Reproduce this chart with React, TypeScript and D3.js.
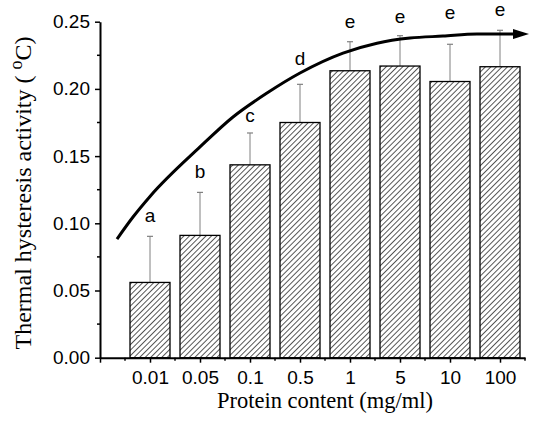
import React, { useEffect, useRef } from "react";
import * as d3 from "d3";

// protein content categories (mg/ml)
const categories = ["0.01", "0.05", "0.1", "0.5", "1", "5", "10", "100"];
// mean thermal hysteresis activity (oC)
const means = [0.056, 0.091, 0.1435, 0.175, 0.2135, 0.217, 0.2055, 0.2165];
// upper end of the error bar
const errTops = [0.0903, 0.123, 0.1672, 0.2034, 0.2351, 0.2396, 0.2332, 0.2436];
// significance letters and where they sit (in y units)
const letters = ["a", "b", "c", "d", "e", "e", "e", "e"];
const letterY = [0.101, 0.1337, 0.1754, 0.2178, 0.2453, 0.249, 0.252, 0.2545];
// trend arrow, [category position, value]
const trendX = [0.34, 0.66, 1.0, 2.0, 2.66, 3.34, 4.0, 4.86, 5.54, 6.2, 6.86, 7.54, 8.3];
const trendY = [0.0883, 0.1047, 0.12, 0.1568, 0.1791, 0.1969, 0.2118, 0.2266, 0.234, 0.2378, 0.2393, 0.2408, 0.2408];

const yMajor = [0, 0.05, 0.1, 0.15, 0.2, 0.25];
const yMinor = [0.025, 0.075, 0.125, 0.175, 0.225];
const xMajor = [0, 1, 2, 3, 4, 5, 6, 7, 8];
const xMinor = [0.5, 1.5, 2.5, 3.5, 4.5, 5.5, 6.5, 7.5, 8.5];

const W = 548;
const H = 421;

const App = () => {
	const ref = useRef<SVGSVGElement>(null);

	useEffect(() => {
		const svg = d3.select(ref.current);
		svg.selectAll("*").remove();

		const x = d3.scaleLinear().domain([0, 8.5]).range([100, 525]);
		const y = d3.scaleLinear().domain([0, 0.25]).range([357.7, 21.7]);

		const defs = svg.append("defs");
		const pat = defs
			.append("pattern")
			.attr("id", "hatch")
			.attr("patternUnits", "userSpaceOnUse")
			.attr("width", 3.9)
			.attr("height", 3.9)
			.attr("patternTransform", "rotate(45)");
		pat.append("rect").attr("width", 3.9).attr("height", 3.9).attr("fill", "#fff");
		pat.append("line")
			.attr("x1", 0.5)
			.attr("x2", 0.5)
			.attr("y1", 0)
			.attr("y2", 3.9)
			.attr("stroke", "#444")
			.attr("stroke-width", 0.9);

		defs.append("marker")
			.attr("id", "arrow")
			.attr("markerUnits", "userSpaceOnUse")
			.attr("viewBox", "0 0 16 10")
			.attr("markerWidth", 16)
			.attr("markerHeight", 10)
			.attr("refX", 2)
			.attr("refY", 5)
			.attr("orient", "auto")
			.append("path")
			.attr("d", "M0,0 L16,5 L0,10 Z")
			.attr("fill", "#000");

		const g = svg.append("g");
		const bw = x(0.8) - x(0);

		// error bars (upper only)
		categories.forEach((c, i) => {
			const cx = x(i + 1);
			g.append("line")
				.attr("x1", cx)
				.attr("x2", cx)
				.attr("y1", y(means[i]))
				.attr("y2", y(errTops[i]))
				.attr("stroke", "#808080")
				.attr("stroke-width", 1);
			g.append("line")
				.attr("x1", cx - 3)
				.attr("x2", cx + 3)
				.attr("y1", y(errTops[i]))
				.attr("y2", y(errTops[i]))
				.attr("stroke", "#808080")
				.attr("stroke-width", 1.2);
		});

		g.selectAll(".bar")
			.data(means)
			.enter()
			.append("rect")
			.attr("x", (d, i) => x(i + 1) - bw / 2)
			.attr("y", (d) => y(d))
			.attr("width", bw)
			.attr("height", (d) => y(0) - y(d))
			.attr("fill", "url(#hatch)")
			.attr("stroke", "#000")
			.attr("stroke-width", 1.3);

		const font = "Liberation Sans, Arial, sans-serif";

		g.selectAll(".letter")
			.data(letters)
			.enter()
			.append("text")
			.attr("x", (d, i) => x(i + 1))
			.attr("y", (d, i) => y(letterY[i]))
			.attr("text-anchor", "middle")
			.attr("font-family", font)
			.attr("font-size", 19)
			.text((d) => d);

		const line = d3
			.line<number>()
			.x((d, i) => x(trendX[i]))
			.y((d) => y(d))
			.curve(d3.curveMonotoneX);
		g.append("path")
			.datum(trendY)
			.attr("d", line)
			.attr("fill", "none")
			.attr("stroke", "#000")
			.attr("stroke-width", 3)
			.attr("marker-end", "url(#arrow)");

		// y axis
		const yAx = g.append("g").attr("transform", `translate(${x(0)},0)`);
		yAx.call(
			d3
				.axisLeft(y)
				.tickValues(yMajor)
				.tickSize(5)
				.tickSizeOuter(0)
				.tickPadding(5)
				.tickFormat(d3.format(".2f"))
		);
		g.append("g")
			.attr("transform", `translate(${x(0)},0)`)
			.selectAll("line")
			.data(yMinor)
			.enter()
			.append("line")
			.attr("x1", -3)
			.attr("x2", 0)
			.attr("y1", (d) => y(d))
			.attr("y2", (d) => y(d))
			.attr("stroke", "#000")
			.attr("stroke-width", 1.5);

		// x axis
		const xAx = g.append("g").attr("transform", `translate(0,${y(0)})`);
		xAx.call(
			d3
				.axisBottom(x)
				.tickValues(xMajor)
				.tickSize(5)
				.tickSizeOuter(0)
				.tickPadding(8)
				.tickFormat((d) => (+d >= 1 ? categories[+d - 1] : ""))
		);
		g.append("g")
			.attr("transform", `translate(0,${y(0)})`)
			.selectAll("line")
			.data(xMinor)
			.enter()
			.append("line")
			.attr("x1", (d) => x(d))
			.attr("x2", (d) => x(d))
			.attr("y1", 0)
			.attr("y2", 3)
			.attr("stroke", "#000")
			.attr("stroke-width", 1.5);

		[xAx, yAx].forEach((a) => {
			a.select(".domain").attr("stroke-width", 2);
			a.selectAll(".tick line").attr("stroke-width", 1.5);
			a.selectAll("text")
				.attr("font-family", font)
				.attr("font-size", 19)
				.attr("fill", "#000");
		});

		// titles
		svg.append("text")
			.attr("x", 325)
			.attr("y", 408)
			.attr("text-anchor", "middle")
			.attr("font-family", "Liberation Serif, Times New Roman, serif")
			.attr("font-size", 22.5)
			.text("Protein content (mg/ml)");

		const yt = svg
			.append("text")
			.attr("transform", "translate(31,193) rotate(-90)")
			.attr("text-anchor", "middle")
			.attr("font-family", "Liberation Serif, Times New Roman, serif")
			.attr("font-size", 24);
		yt.append("tspan").text("Thermal hysteresis activity ( ");
		yt.append("tspan").attr("dy", -9).attr("font-size", 18).text("o");
		yt.append("tspan").attr("dy", 9).text("C)");
	}, []);

	return (
		<div style={{ position: "absolute", left: 0, top: 0 }}>
			<svg ref={ref} width={W} height={H} style={{ display: "block", background: "#fff" }}></svg>
		</div>
	);
};

export default App;
